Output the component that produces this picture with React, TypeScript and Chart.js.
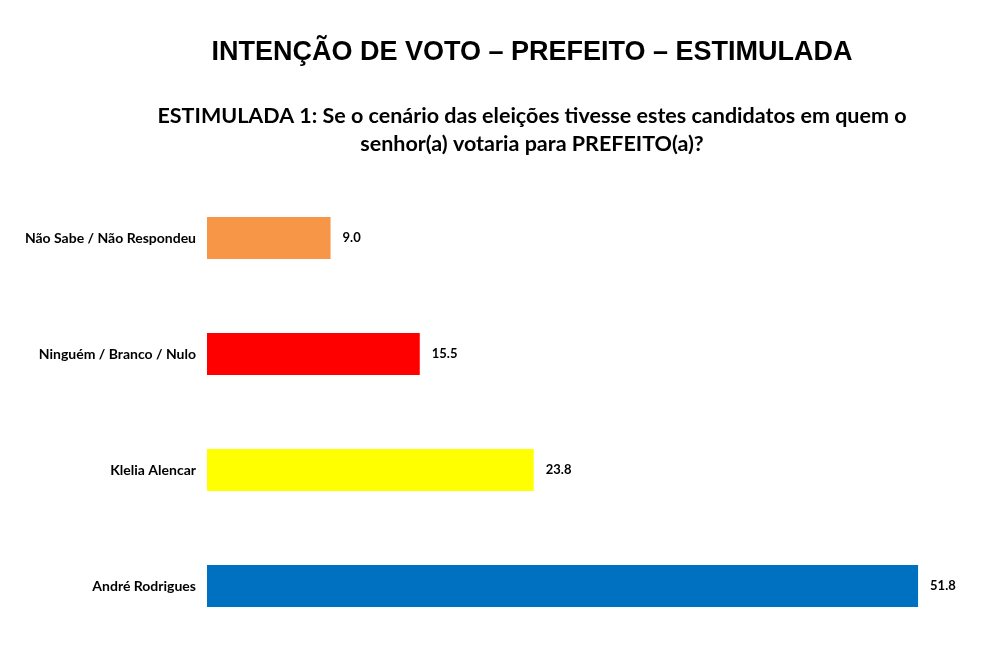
import React, { useEffect, useRef } from "react";
import { Chart, registerables } from "chart.js";

Chart.register(...registerables);

const titleText = "INTENÇÃO DE VOTO – PREFEITO – ESTIMULADA";
const subtitleLines = [
  "ESTIMULADA 1: Se o cenário das eleições tivesse estes candidatos em quem o",
  "senhor(a) votaria para PREFEITO(a)?",
];
const categories = ["Não Sabe / Não Respondeu", "Ninguém / Branco / Nulo", "Klelia Alencar", "André Rodrigues"];
const values = [9.0, 15.5, 23.8, 51.8];
const barColors = ["#F79646", "#FF0000", "#FFFF00", "#0070C0"];

const labelFont = "Lato";

const headingPlugin = {
  id: "headings",
  afterDraw(chart: any) {
    const { ctx } = chart;
    const cx = 532;
    ctx.save();
    ctx.fillStyle = "#000000";
    ctx.textAlign = "center";
    ctx.textBaseline = "middle";
    ctx.font = `bold 27px "Liberation Sans"`;
    ctx.fillText(titleText, cx, 53);
    ctx.font = `bold 21.5px ${labelFont}`;
    subtitleLines.forEach((line, i) => ctx.fillText(line, cx, 116 + i * 28));
    ctx.restore();
  },
};

const valueLabelPlugin = {
  id: "valueLabels",
  afterDatasetsDraw(chart: any) {
    const { ctx } = chart;
    const meta = chart.getDatasetMeta(0);
    ctx.save();
    ctx.font = `bold 13px ${labelFont}`;
    ctx.fillStyle = "#000000";
    ctx.textAlign = "left";
    ctx.textBaseline = "middle";
    meta.data.forEach((bar: any, i: number) => {
      ctx.fillText(values[i].toFixed(1), bar.x + 12, bar.y);
    });
    ctx.restore();
  },
};

export default function App() {
  const ref = useRef<HTMLCanvasElement>(null);
  useEffect(() => {
    document.body.style.margin = "0";
    const chart = new Chart(ref.current!, {
      type: "bar",
      data: {
        labels: categories,
        datasets: [
          {
            data: values,
            backgroundColor: barColors,
            borderWidth: 0,
            categoryPercentage: 1,
            barPercentage: 0.362,
          },
        ],
      },
      options: {
        indexAxis: "y",
        animation: false,
        responsive: false,
        maintainAspectRatio: false,
        layout: { padding: { top: 180, bottom: 20, left: 0, right: 22 } },
        plugins: {
          legend: { display: false },
          tooltip: { enabled: false },
          title: { display: false },
        },
        scales: {
          x: {
            display: false,
            min: 0,
            max: 55,
          },
          y: {
            grid: { display: false, drawTicks: false },
            border: { display: false },
            ticks: {
              color: "#000000",
              padding: 11,
              font: { family: labelFont, size: 14, weight: "bold" },
            },
            afterFit(scale: any) {
              scale.width = 207;
            },
          },
        },
      },
      plugins: [valueLabelPlugin, headingPlugin],
    });
    return () => chart.destroy();
  }, []);
  return (
    <div style={{ width: 984, height: 664, background: "#ffffff" }}>
      <canvas ref={ref} width={984} height={664} style={{ display: "block" }} />
    </div>
  );
}
